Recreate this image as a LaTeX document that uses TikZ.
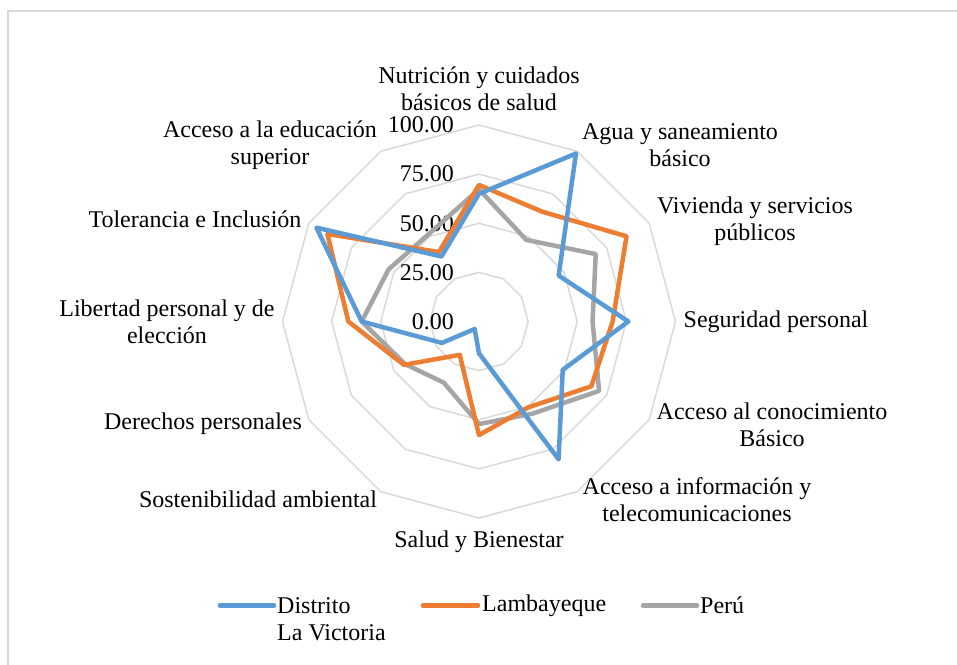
\documentclass[tikz,border=0pt]{standalone}
\usepackage{fontspec}
\setmainfont{Liberation Serif}
\usepackage{xcolor}
\usetikzlibrary{positioning}
\definecolor{seriesblue}{HTML}{5B9BD5}
\definecolor{seriesorange}{HTML}{ED7D31}
\definecolor{seriesgray}{HTML}{A5A5A5}
\definecolor{ringgray}{HTML}{D9D9D9}
\tikzset{
  ringline/.style={draw=ringgray, line width=1.5},
  serie/.style={line width=4.5, line join=round, line cap=round},
  axislabel/.style={align=center, font=\fontsize{24}{27}\selectfont, inner sep=0},
  ticklabel/.style={anchor=east, font=\fontsize{24}{27}\selectfont, inner sep=0},
}
\begin{document}
\begin{tikzpicture}[x=1pt, y=1pt]
    \def\rad{1.965}
    \useasboundingbox (-479,-342.5) rectangle (478,321.5);
    \draw[draw=ringgray, line width=1.5] (-471,-360) rectangle (490,310.5);

    % rings
    \foreach \v in {25,50,75,100}
        \draw[ringline] (90:\v*\rad) \foreach \a in {60,30,...,-240} {-- (\a:\v*\rad)} -- cycle;

    % values
    \foreach \v in {0,25,50,75,100}
        \node(t\v) [ticklabel] at (-25,\v*\rad) {\v.00};

    % axis labels
    \node(lab1) [axislabel] at (0,232.5) {Nutrición y cuidados\\básicos de salud};
    \node(lab2) [axislabel] at (201,176.5) {Agua y saneamiento\\básico};
    \node(lab3) [axislabel] at (276,100.5) {Vivienda y servicios\\públicos};
    \node(lab4) [axislabel] at (297,0) {Seguridad personal};
    \node(lab5) [axislabel] at (293,-103.5) {Acceso al conocimiento\\Básico};
    \node(lab6) [axislabel] at (218,-178.5) {Acceso a información y\\telecomunicaciones};
    \node(lab7) [axislabel] at (0,-220.5) {Salud y Bienestar};
    \node(lab8) [axislabel] at (-221,-177.5) {Sostenibilidad ambiental};
    \node(lab9) [axislabel] at (-276,-102.5) {Derechos personales};
    \node(lab10) [axislabel] at (-312,0) {Libertad personal y de\\elección};
    \node(lab11) [axislabel] at (-284,102.5) {Tolerancia e Inclusión};
    \node(lab12) [axislabel] at (-209,176.5) {Acceso a la educación\\superior};

    % series points
    \foreach \val [count=\i] in {65,98.7,46.8,76,49.2,81,16.2,4.4,21.8,59.7,95.5,38.2}
        \coordinate (d\i) at ({90-30*(\i-1)}:\val*\rad);
    \foreach \val [count=\i] in {69.5,64.5,86.7,68,66,50.4,57.8,19.6,44.1,66.5,89.1,40.8}
        \coordinate (l\i) at ({90-30*(\i-1)}:\val*\rad);
    \foreach \val [count=\i] in {67.3,48,68.6,57.8,70.6,54.2,52.2,35.9,43.4,59.7,53.1,51.3}
        \coordinate (p\i) at ({90-30*(\i-1)}:\val*\rad);

    \draw[serie, seriesgray] (p1) \foreach \i in {2,...,12} {-- (p\i)} -- cycle;
    \draw[serie, seriesorange] (l1) \foreach \i in {2,...,12} {-- (l\i)} -- cycle;
    \draw[serie, seriesblue] (d1) \foreach \i in {2,...,12} {-- (d\i)} -- cycle;

    % legend
    \coordinate(kd) at (-259,-284);
    \coordinate(kl) at (-56,-284);
    \coordinate(kp) at (164,-284);
    \draw[serie, seriesblue] (kd) -- ++(54,0) coordinate(kd2);
    \draw[serie, seriesorange] (kl) -- ++(55,0) coordinate(kl2);
    \draw[serie, seriesgray] (kp) -- ++(54,0) coordinate(kp2);
    \node(kdt) [axislabel, align=left, anchor=north west] at ([xshift=3, yshift=8] kd2) {Distrito\\La Victoria};
    \node(klt) [axislabel, anchor=west] at ([xshift=4] kl2) {Lambayeque};
    \node(kpt) [axislabel, anchor=west] at ([xshift=3] kp2) {Perú};
\end{tikzpicture}
\end{document}
